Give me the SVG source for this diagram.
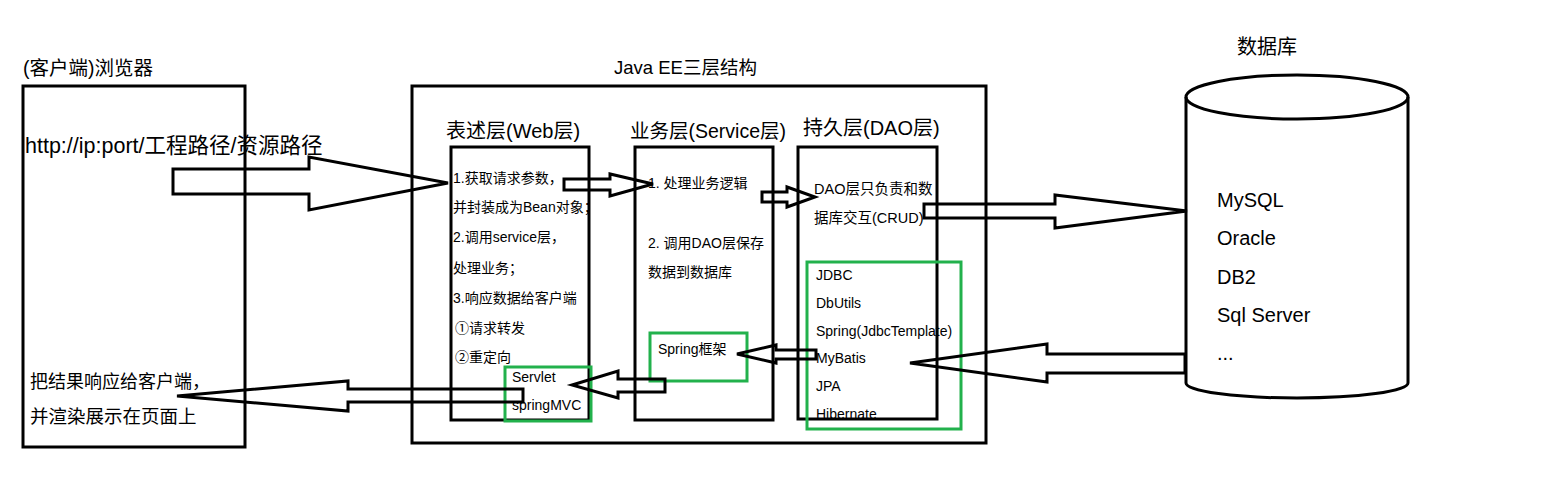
<svg xmlns="http://www.w3.org/2000/svg" width="1545" height="485" viewBox="0 0 1545 485">
<style>
text{font-family:"Liberation Sans","Noto Sans CJK SC",sans-serif;fill:#000}
.box{fill:none;stroke:#000;stroke-width:3}
.green{fill:none;stroke:#22b14c;stroke-width:3}
.arrow{fill:none;stroke:#000;stroke-width:3;stroke-linejoin:miter}
.t14{font-size:14px}
.t13{font-size:14px}
.db{font-size:20px}
</style>
<rect width="1545" height="485" fill="#fff"/>
<g id="browser">
<rect class="box" x="23" y="86" width="222" height="361"/>
<text x="23" y="75" font-size="19.5">(客户端)浏览器</text>
<text x="25" y="153" font-size="21.5">http://ip:port/工程路径/资源路径</text>
<text x="30" y="388" font-size="18">把结果响应给客户端，</text>
<text x="30" y="423" font-size="18.5">并渲染展示在页面上</text>
</g>
<g id="javaee">
<rect class="box" x="412" y="86" width="574" height="357"/>
<text x="614" y="74" font-size="18.5">Java EE三层结构</text>
</g>
<g id="web">
<rect class="box" x="451" y="147" width="138" height="273"/>
<text x="446" y="138" font-size="20">表述层(Web层)</text>
<text class="t14" x="453" y="183">1.获取请求参数，</text>
<text class="t14" x="453" y="212">并封装成为Bean对象；</text>
<text class="t14" x="453" y="242">2.调用service层，</text>
<text class="t14" x="453" y="273">处理业务；</text>
<text class="t14" x="453" y="303">3.响应数据给客户端</text>
<text class="t14" x="455" y="333">①请求转发</text>
<text class="t14" x="455" y="362">②重定向</text>
</g>
<g id="servlet">
<rect class="green" x="505" y="367" width="86" height="54"/>
<text class="t14" x="512" y="382">Servlet</text>
<text class="t14" x="512" y="410">springMVC</text>
</g>
<g id="service">
<rect class="box" x="635" y="147" width="138" height="273"/>
<text x="630" y="138" font-size="19.5">业务层(Service层)</text>
<text class="t14" x="648" y="188">1. 处理业务逻辑</text>
<text class="t14" x="648" y="248">2. 调用DAO层保存</text>
<text class="t14" x="648" y="277">数据到数据库</text>
</g>
<g id="spring">
<rect class="green" x="650" y="333" width="97" height="48"/>
<text class="t14" x="658" y="354">Spring框架</text>
</g>
<g id="dao">
<rect class="box" x="798" y="147" width="139" height="272"/>
<text x="803" y="135" font-size="20">持久层(DAO层)</text>
<text x="814" y="194" font-size="14.5">DAO层只负责和数</text>
<text x="814" y="223" font-size="14.5">据库交互(CRUD)</text>
</g>
<g id="frameworks">
<rect class="green" x="807" y="262" width="154" height="167"/>
<text class="t13" x="816" y="280">JDBC</text>
<text class="t13" x="816" y="308">DbUtils</text>
<text class="t13" x="816" y="336">Spring(JdbcTemplate)</text>
<text class="t13" x="816" y="363">MyBatis</text>
<text class="t13" x="816" y="391">JPA</text>
<text class="t13" x="816" y="419">Hibernate</text>
</g>
<g id="database">
<text x="1237" y="54" font-size="20">数据库</text>
<path class="box" d="M1186,97 V383 A111,15 0 0 0 1408,383 V97"/>
<ellipse class="box" cx="1297" cy="97" rx="111" ry="22"/>
<text class="db" x="1217" y="207">MySQL</text>
<text class="db" x="1217" y="245">Oracle</text>
<text class="db" x="1217" y="284">DB2</text>
<text class="db" x="1217" y="322">Sql Server</text>
<text class="db" x="1217" y="360">...</text>
</g>
<g id="connectors">
<polygon class="arrow" points="173,169 309,169 309,157 448,183 309,210 309,194 173,194"/>
<polygon class="arrow" points="564,179 610,179 610,174 653,184 610,196 610,190 564,190"/>
<polygon class="arrow" points="762,192 787,192 787,187 815,197 787,207 787,202 762,202"/>
<polygon class="arrow" points="924,204 1055,204 1055,195 1187,211 1055,228 1055,218 924,218"/>
<polygon class="arrow" points="1185,354 1047,354 1047,344 910,363 1047,382 1047,373 1185,373"/>
<polygon class="arrow" points="816,350 776,350 776,345 737,354 776,363 776,359 816,359"/>
<polygon class="arrow" points="665,379 618,379 618,371 572,385 618,398 618,392 665,392"/>
<polygon class="arrow" points="523,389 348,389 348,381 177,396 348,411 348,402 523,402"/>
</g>
</svg>
